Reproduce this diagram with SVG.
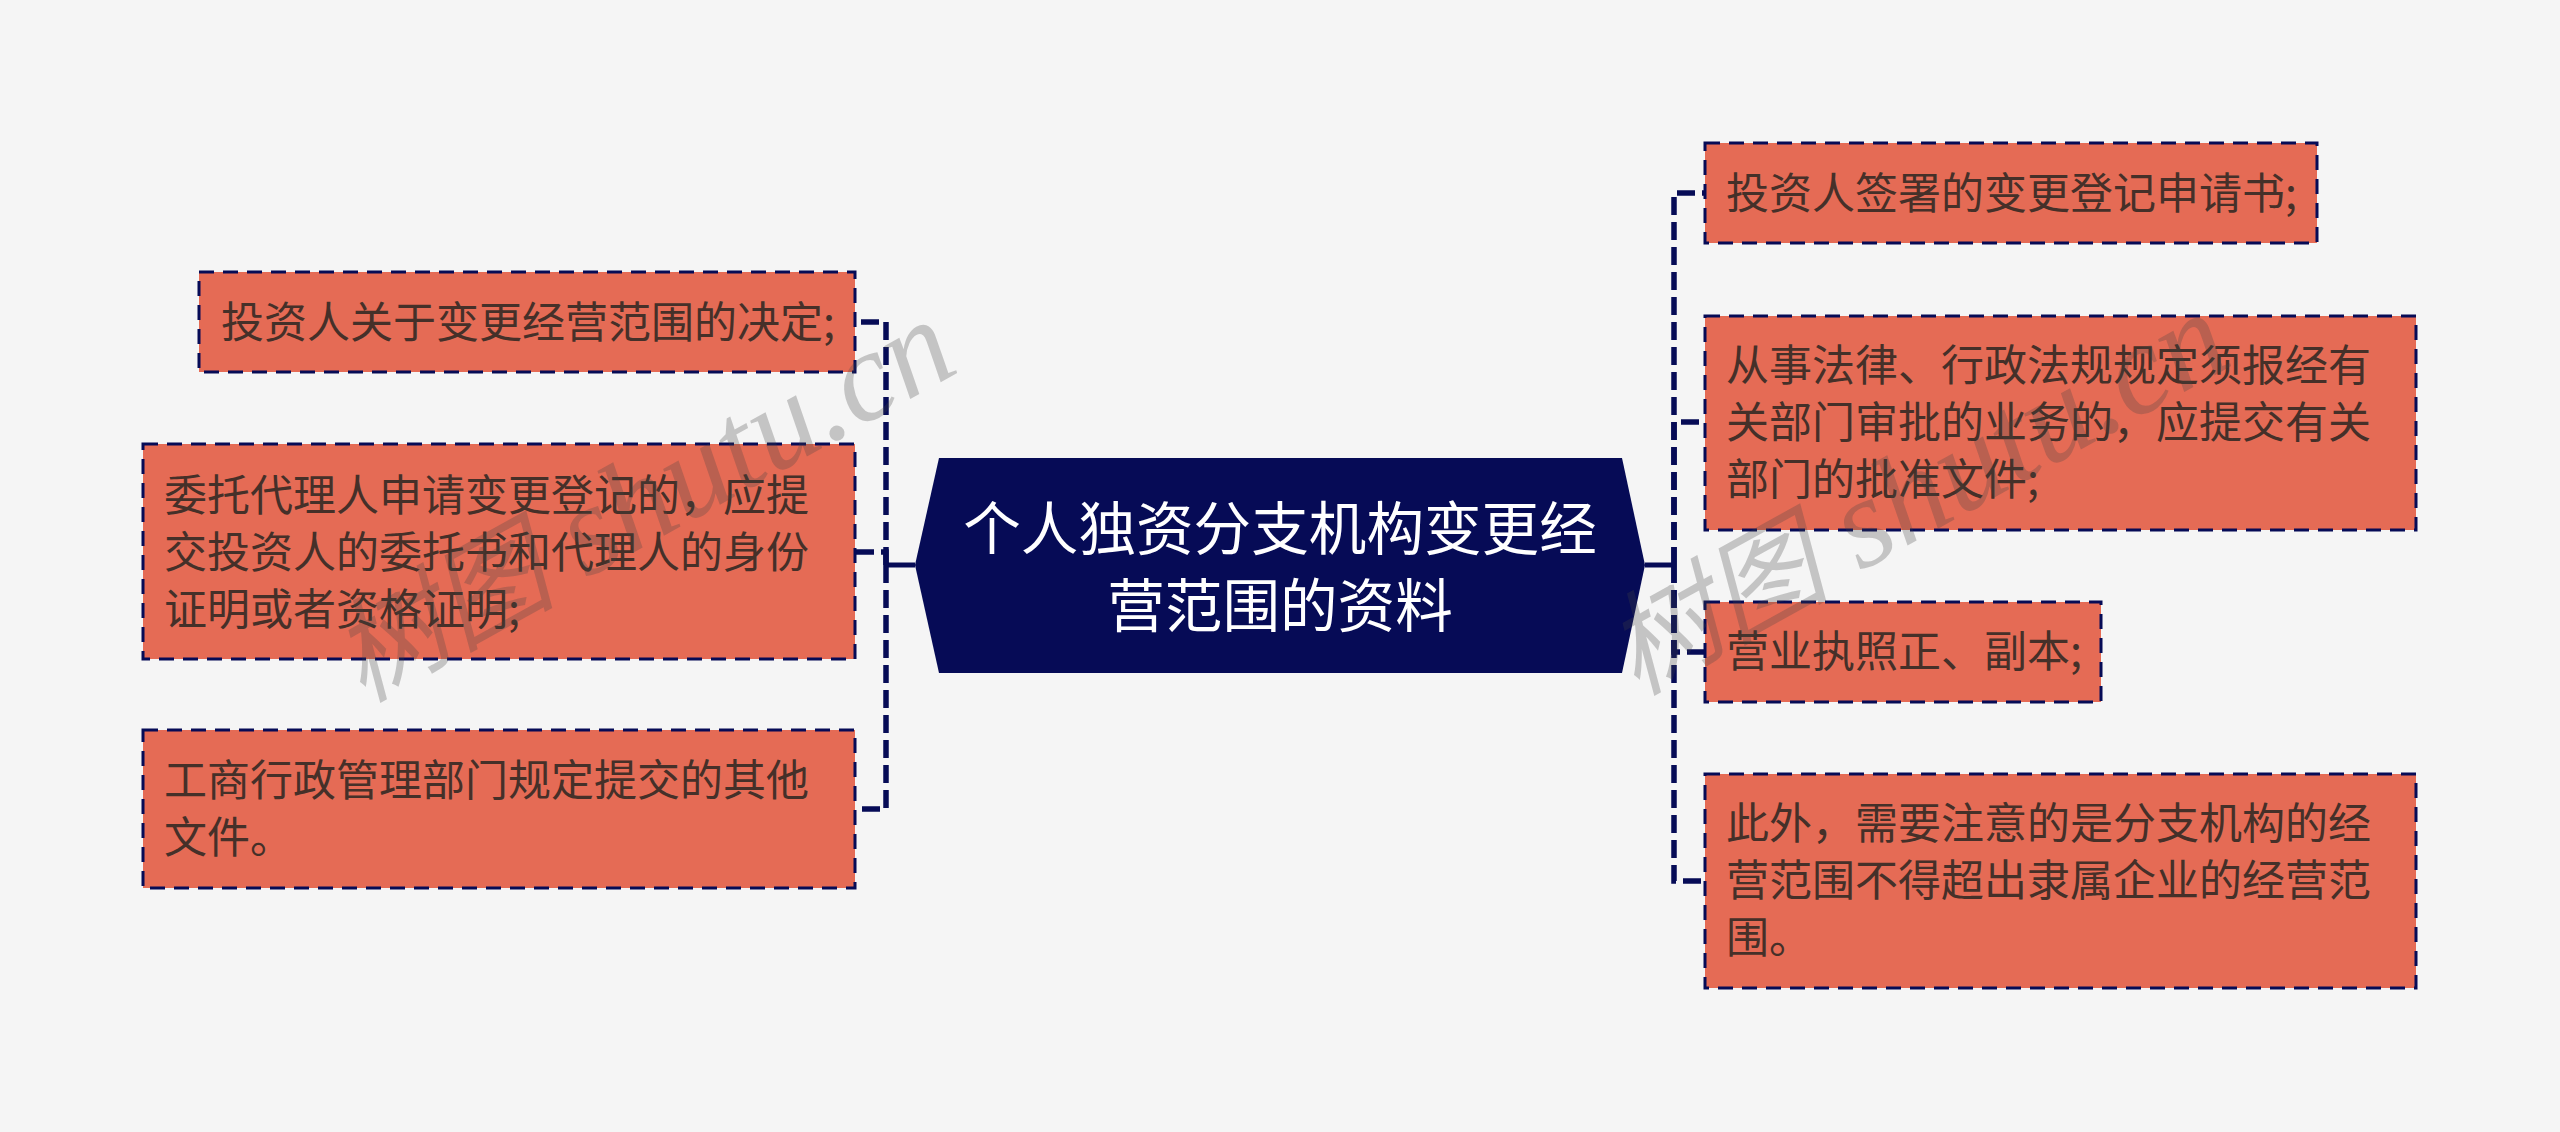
<svg xmlns="http://www.w3.org/2000/svg" width="2560" height="1132" viewBox="0 0 2560 1132">
<style>
text{font-family:"Noto Sans CJK SC","Liberation Sans",sans-serif}
.box{fill:#e56b55;stroke:#060b56;stroke-width:3;stroke-dasharray:15 9}
.t{font-size:43px;fill:#453029}
.c{font-size:57.6px;fill:#fff}
.con{fill:none;stroke:#060b56;stroke-width:5.5;stroke-dasharray:18 7}
.main{fill:none;stroke:#060b56;stroke-width:5}
.wm{font-size:128px;fill:#444;fill-opacity:.27;font-family:"Liberation Serif","Noto Sans CJK SC",serif;font-style:italic}
.wc{font-size:112px}
</style>
<rect width="2560" height="1132" fill="#f5f5f5"/>
<g id="connectors">
<path class="main" d="M915 565H886"/>
<path class="con" d="M886 565V322H855"/>
<path class="con" d="M886 565V552H855"/>
<path class="con" d="M886 565V809H855"/>
<path class="main" d="M1645 565H1674"/>
<path class="con" d="M1674 565V193H1705"/>
<path class="con" d="M1674 565V422H1705"/>
<path class="con" d="M1674 565V652H1705"/>
<path class="con" d="M1674 565V881H1705"/>
</g>
<g id="center"><polygon points="939,458 1622,458 1645,565 1622,673 939,673 915,565" fill="#060b56"/>
<text class="c" x="1280" y="550" text-anchor="middle">个人独资分支机构变更经</text>
<text class="c" x="1280" y="627" text-anchor="middle">营范围的资料</text></g>
<g id="l1"><rect class="box" x="199" y="272" width="656" height="100"/><text class="t" x="221" y="338">投资人关于变更经营范围的决定;</text></g>
<g id="l2"><rect class="box" x="143" y="444" width="712" height="215"/><text class="t" x="164" y="511">委托代理人申请变更登记的，应提</text><text class="t" x="164" y="568">交投资人的委托书和代理人的身份</text><text class="t" x="164" y="625">证明或者资格证明;</text></g>
<g id="l3"><rect class="box" x="143" y="730" width="712" height="158"/><text class="t" x="164" y="796">工商行政管理部门规定提交的其他</text><text class="t" x="164" y="853">文件。</text></g>
<g id="r1"><rect class="box" x="1705" y="143" width="612" height="100"/><text class="t" x="1726" y="209">投资人签署的变更登记申请书;</text></g>
<g id="r2"><rect class="box" x="1705" y="316" width="711" height="214"/><text class="t" x="1726" y="381">从事法律、行政法规规定须报经有</text><text class="t" x="1726" y="438">关部门审批的业务的，应提交有关</text><text class="t" x="1726" y="495">部门的批准文件;</text></g>
<g id="r3"><rect class="box" x="1705" y="602" width="396" height="100"/><text class="t" x="1726" y="667">营业执照正、副本;</text></g>
<g id="r4"><rect class="box" x="1705" y="774" width="711" height="214"/><text class="t" x="1726" y="839">此外，需要注意的是分支机构的经</text><text class="t" x="1726" y="896">营范围不得超出隶属企业的经营范</text><text class="t" x="1726" y="953">围。</text></g>
<g id="watermark">
<text class="wm" transform="translate(362 703) rotate(-29)"><tspan class="wc">树图</tspan> shutu.cn</text>
<text class="wm" transform="translate(1636 696) rotate(-29)"><tspan class="wc">树图</tspan> shutu.cn</text>
</g>
</svg>
